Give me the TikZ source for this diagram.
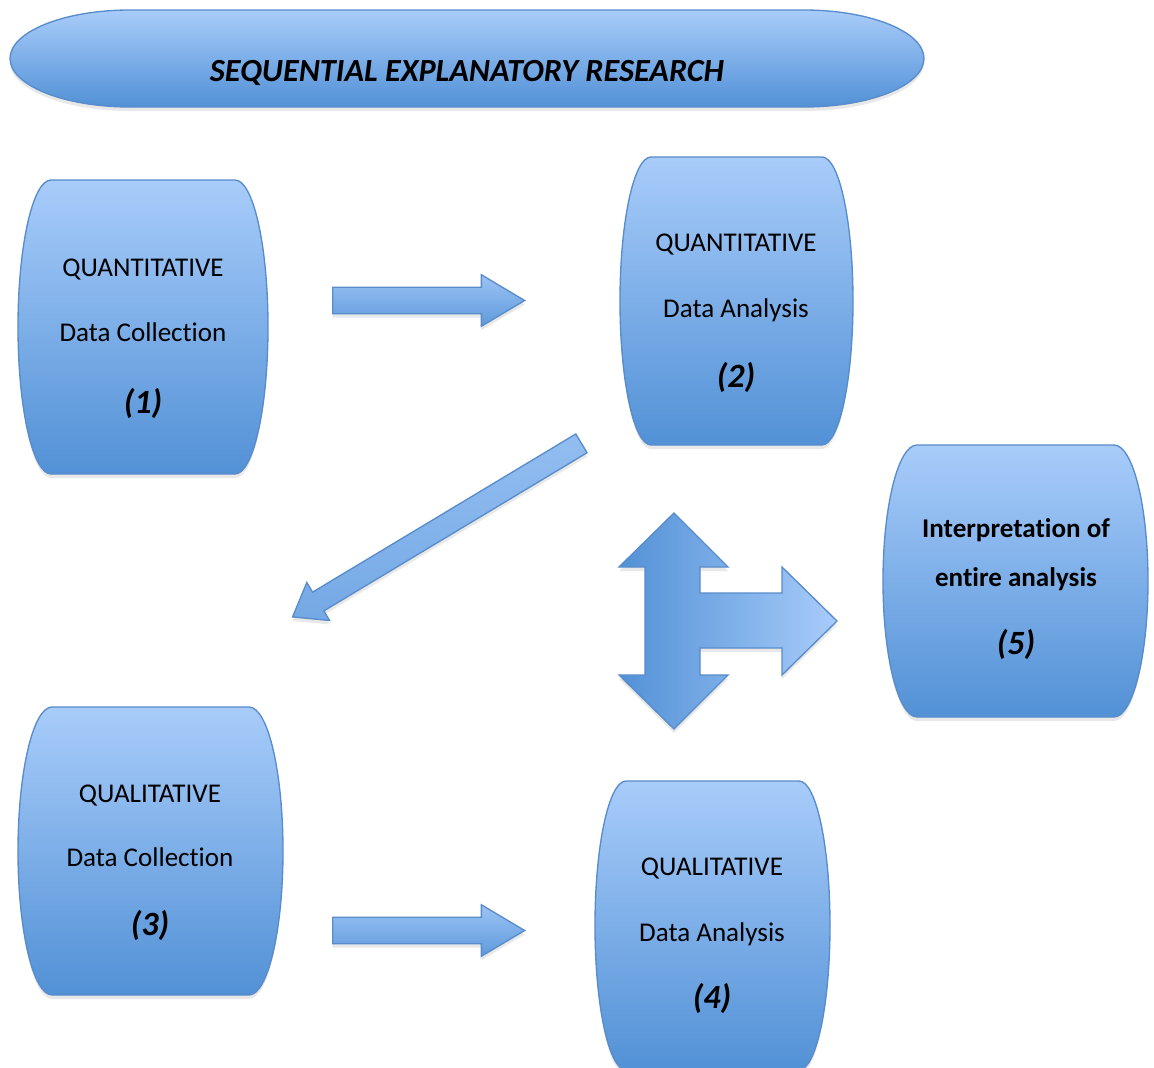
\documentclass[tikz,border=0pt]{standalone}
\usepackage{fontspec}
\setmainfont{Carlito}[Ligatures={NoCommon}]
\usetikzlibrary{shapes.arrows,shadows}
\definecolor{gtop}{RGB}{168,204,250}
\definecolor{gbot}{RGB}{82,145,214}
\definecolor{bord}{RGB}{88,140,202}
\newcommand\boxfont{\fontsize{20.3}{24}\selectfont}
\newcommand\numfont{\fontsize{25.5}{30}\selectfont\bfseries\itshape}
\newcommand\titlefont{\fontsize{24.2}{28}\selectfont\bfseries\itshape}
\tikzset{
  boxstyle/.style={draw=bord, line width=1pt, top color=gtop, bottom color=gbot,
    drop shadow={opacity=0.18, shadow xshift=0pt, shadow yshift=-3pt}},
  blockarrow/.style={single arrow, draw=bord, line width=1pt, inner xsep=0pt,
    top color=gtop!85!gbot, bottom color=gbot!85!gtop, anchor=tail,
    drop shadow={opacity=0.18, shadow xshift=0pt, shadow yshift=-3pt}},
  tristyle/.style={draw=bord, line width=1pt, left color=gbot, right color=gtop,
    drop shadow={opacity=0.18, shadow xshift=0pt, shadow yshift=-3pt}},
  lbl/.style={font=\boxfont, inner sep=0pt, anchor=base, text=black},
  numlbl/.style={font=\numfont, inner sep=0pt, anchor=base, text=black},
  boldlbl/.style={font=\boxfont\bfseries, inner sep=0pt, anchor=base, text=black},
}
% barrel: left, top, right, bottom, depth (pixel units, y down)
\newcommand\barrel[5]{%
  \pgfmathsetmacro\bL{#1}\pgfmathsetmacro\bT{#2}%
  \pgfmathsetmacro\bR{#3}\pgfmathsetmacro\bB{#4}\pgfmathsetmacro\bD{#5}%
  \pgfmathsetmacro\bM{(\bT+\bB)/2}%
  \pgfmathsetmacro\bK{0.5523*(\bB-\bT)/2}%
  \pgfmathsetmacro\bC{0.5523*\bD}%
  \path[boxstyle] ({\bL+\bD},\bT) -- ({\bR-\bD},\bT)
    .. controls ({\bR-\bD+\bC},\bT) and (\bR,{\bM-\bK}) .. (\bR,\bM)
    .. controls (\bR,{\bM+\bK}) and ({\bR-\bD+\bC},\bB) .. ({\bR-\bD},\bB)
    -- ({\bL+\bD},\bB)
    .. controls ({\bL+\bD-\bC},\bB) and (\bL,{\bM+\bK}) .. (\bL,\bM)
    .. controls (\bL,{\bM-\bK}) and ({\bL+\bD-\bC},\bT) .. ({\bL+\bD},\bT)
    -- cycle;
}
\begin{document}
\begin{tikzpicture}[x=0.75pt,y=-0.75pt]
\clip (0,0) rectangle (1154,1068);
\fill[white] (0,0) rectangle (1154,1068);

% title
\barrel{10}{10}{924}{107}{120}
\node[font=\titlefont, inner sep=0pt, anchor=base] (title) at (467,81) {SEQUENTIAL EXPLANATORY RESEARCH};

% box 1
\barrel{18}{180}{268}{474}{33}
\node[lbl] (b1a) at (143,276) {QUANTITATIVE};
\node[lbl] (b1b) at (143,341) {Data Collection};
\node[numlbl] (b1c) at (143,413) {(1)};

% box 2
\barrel{620}{157}{853}{445}{31}
\node[lbl] (b2a) at (736,251) {QUANTITATIVE};
\node[lbl] (b2b) at (736,317) {Data Analysis};
\node[numlbl] (b2c) at (736,387) {(2)};

% box 3
\barrel{18}{707}{283}{995}{34}
\node[lbl] (b3a) at (150,802) {QUALITATIVE};
\node[lbl] (b3b) at (150,866) {Data Collection};
\node[numlbl] (b3c) at (150,935) {(3)};

% box 4
\barrel{595}{781}{830}{1070}{31}
\node[lbl] (b4a) at (712,875) {QUALITATIVE};
\node[lbl] (b4b) at (712,941) {Data Analysis};
\node[numlbl] (b4c) at (712,1008) {(4)};

% box 5
\barrel{883}{445}{1148}{717}{34}
\node[boldlbl] (b5a) at (1016,537) {Interpretation of};
\node[boldlbl] (b5b) at (1016,586) {entire analysis};
\node[numlbl] (b5c) at (1016,654) {(5)};

% block arrows
\node[blockarrow, minimum height=144pt, minimum width=37.5pt, inner ysep=9.4pt,
  single arrow head extend=9.4pt, single arrow tip angle=61.5] (a12) at (332,300.5) {};
\node[blockarrow, minimum height=144pt, minimum width=37.5pt, inner ysep=9.4pt,
  single arrow head extend=9.4pt, single arrow tip angle=61.5] (a34) at (332,930.5) {};
\node[blockarrow, rotate=211, minimum height=252.75pt, minimum width=32.3pt, inner ysep=7.7pt,
  single arrow head extend=8.4pt, single arrow tip angle=73,
  top color=gtop!75!gbot, bottom color=gtop!40!gbot] (a23) at (582,443) {};

% three-way arrow
\path[tristyle] (674,513) -- (728,567) -- (700,567) -- (700,593) -- (782,593)
  -- (782,567) -- (837,621) -- (782,675) -- (782,648) -- (700,648) -- (700,675)
  -- (728,675) -- (674,729) -- (619,675) -- (645,675) -- (645,567) -- (619,567) -- cycle;
\coordinate (tri) at (674,621);
\end{tikzpicture}
\end{document}
